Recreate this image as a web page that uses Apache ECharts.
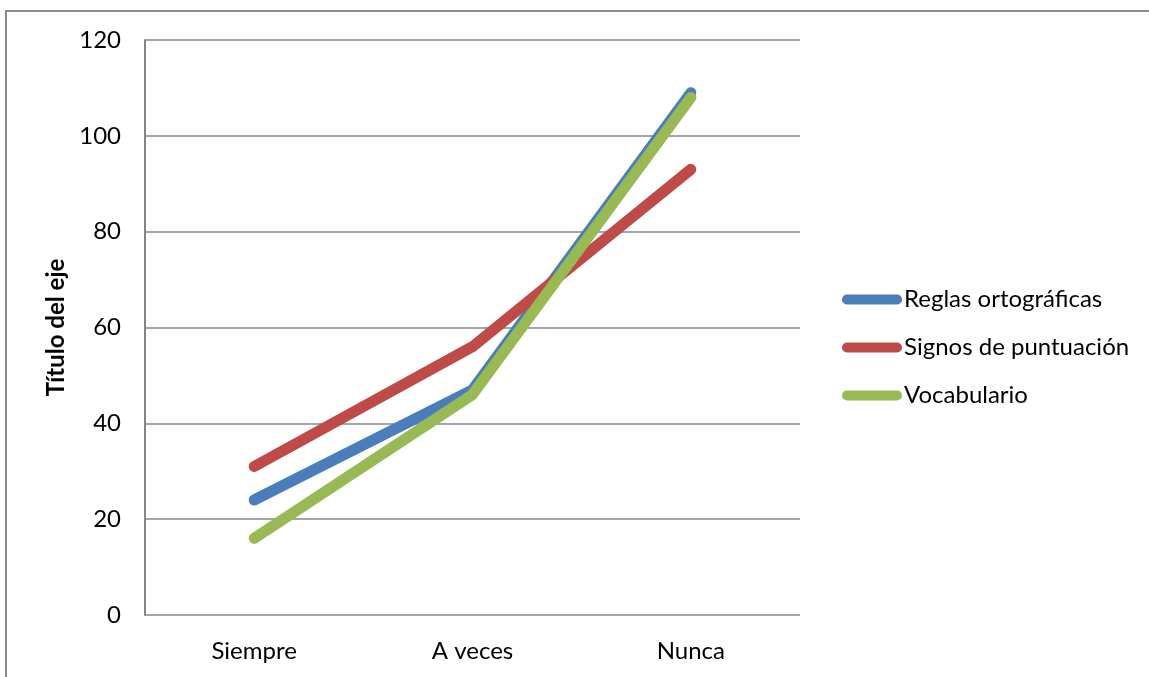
<!DOCTYPE html>
<html><head><meta charset="utf-8">
<script src="https://cdn.jsdelivr.net/npm/echarts@6/dist/echarts.min.js"></script>
<style>html,body{margin:0;padding:0;background:#fff}#c{width:1149px;height:677px}</style>
</head><body><div id="c"></div>
<script>
const categories = ['Siempre', 'A veces', 'Nunca'];
const seriesNames = ['Reglas ortográficas', 'Signos de puntuación', 'Vocabulario'];
const reglas = [24, 47, 109];
const signos = [31, 56, 93];
const vocabulario = [16, 46, 108];
const yTicks = [0, 20, 40, 60, 80, 100, 120];
const colors = ['#4A7EBB', '#BE4B48', '#98B954'];
const values = [reglas, signos, vocabulario];
const FONT = 'Lato, "Open Sans", sans-serif';
const chart = echarts.init(document.getElementById('c'));
const capIcon = 'path://M5,0 L55,0 A5,5 0 0 1 55,10 L5,10 A5,5 0 0 1 5,0 Z';
chart.setOption({
  animation: false,
  graphic: [{type:'rect', shape:{x:6,y:11,width:1200,height:700}, style:{fill:'none', stroke:'#8c8c8c', lineWidth:2}, z:-1}],
  grid: {left:145, top:40, width:655, height:575},
  legend: {
    orient:'vertical', left:837, top:282, itemWidth:60, itemHeight:10, itemGap:23,
    icon: capIcon,
    textStyle:{fontFamily:FONT, fontSize:24, lineHeight:25, color:'#000', padding:[0,0,0,-3]},
    data: seriesNames
  },
  xAxis: {
    type:'category', data:categories, boundaryGap:true,
    axisLine:{show:false}, axisTick:{show:false},
    axisLabel:{fontFamily:FONT, fontSize:24, color:'#000', margin:24}
  },
  yAxis: {
    type:'value', min:yTicks[0], max:yTicks[yTicks.length-1], interval:20,
    name:'Título del eje', nameLocation:'middle', nameGap:68,
    nameTextStyle:{fontFamily:FONT, fontSize:24, fontWeight:'bold', color:'#000'},
    axisLine:{show:true, lineStyle:{color:'#868686', width:2}}, axisTick:{show:false},
    splitLine:{lineStyle:{color:'#868686', width:1.5}},
    axisLabel:{fontFamily:FONT, fontSize:24, color:'#000', margin:24}
  },
  series: seriesNames.map((n,i)=>({
    name:n, type:'line', data:values[i], symbol:'none', color:colors[i],
    lineStyle:{width:11, color:colors[i], cap:'round', join:'round'}
  }))
});
</script></body></html>
